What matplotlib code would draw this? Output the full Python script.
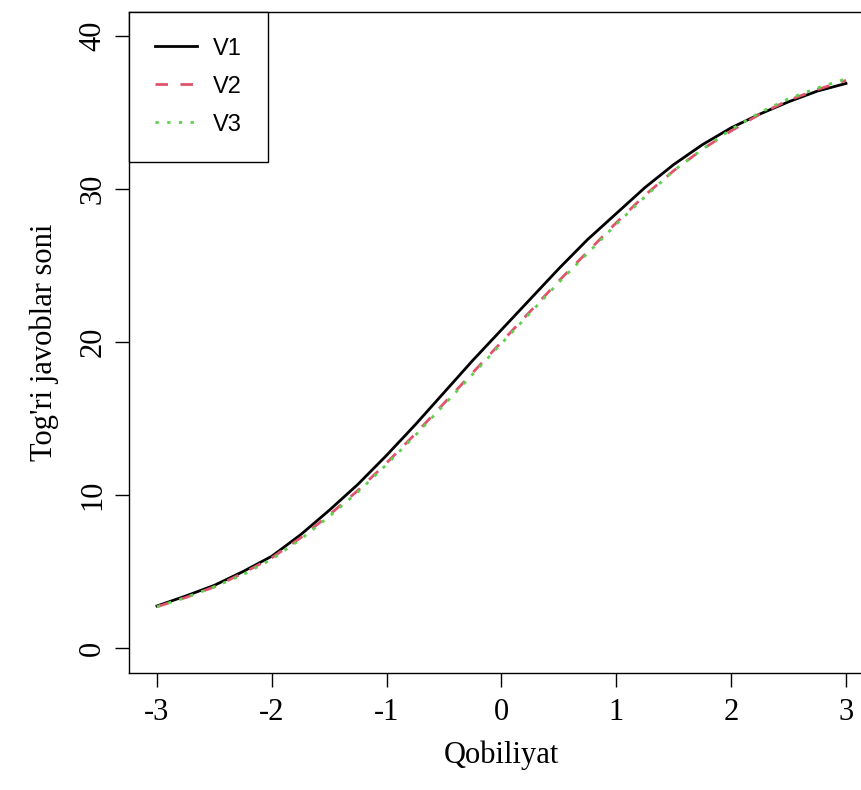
import matplotlib
matplotlib.use("Agg")
import matplotlib.pyplot as plt

# ── Data ──────────────────────────────────────────────────────────────────────
theta = [-3.0, -2.75, -2.5, -2.25, -2.0, -1.75, -1.5, -1.25, -1.0, -0.75, -0.5, -0.25,
         0.0, 0.25, 0.5, 0.75, 1.0, 1.25, 1.5, 1.75, 2.0, 2.25, 2.5, 2.75, 3.0]

v1 = [2.75, 3.4, 4.1, 5.0, 6.0, 7.4, 9.0, 10.7, 12.6, 14.6, 16.7, 18.8,
      20.8, 22.8, 24.8, 26.7, 28.4, 30.1, 31.6, 32.9, 34.0, 34.9, 35.7, 36.4, 36.9]
v2 = [2.7, 3.3, 4.0, 4.9, 5.9, 7.2, 8.7, 10.3, 12.1, 14.0, 16.0, 18.0,
      20.0, 22.0, 24.0, 25.9, 27.8, 29.6, 31.2, 32.6, 33.8, 34.9, 35.8, 36.5, 37.1]
v3 = [2.7, 3.3, 4.0, 4.8, 5.8, 7.1, 8.6, 10.2, 12.0, 13.9, 15.9, 17.9,
      19.9, 21.9, 23.9, 25.8, 27.7, 29.5, 31.2, 32.6, 33.9, 35.0, 35.9, 36.6, 37.2]

labels = ["V1", "V2", "V3"]
x_ticks = [-3, -2, -1, 0, 1, 2, 3]
y_ticks = [0, 10, 20, 30, 40]

# ── Plot ──────────────────────────────────────────────────────────────────────
SERIF = ["Liberation Serif", "DejaVu Serif"]
SANS = ["Liberation Sans", "DejaVu Sans"]

fig = plt.figure(figsize=(8.62, 7.90), dpi=100)
ax = fig.add_axes([0.1501, 0.1487, 0.8633, 0.8367])

ax.plot(theta, v1, color="black", lw=2, label=labels[0])
ax.plot(theta, v2, color="#DF536B", lw=2, dashes=(4.5, 4.5), label=labels[1])
ax.plot(theta, v3, color="#61D04F", lw=2, dashes=(1.2, 3.0), label=labels[2])

ax.set_xlim(-3.24, 3.24)
ax.set_ylim(-1.6, 41.6)
ax.set_xticks(x_ticks)
ax.set_yticks(y_ticks)
ax.set_xticklabels([str(t) for t in x_ticks], family=SERIF, fontsize=22)
ax.set_yticklabels([str(t) for t in y_ticks], family=SERIF, fontsize=22,
                   rotation=90, va="center")
ax.tick_params(axis="both", direction="out", length=10, width=1, color="black")
ax.tick_params(axis="x", pad=8)
ax.tick_params(axis="y", pad=6)

for s in ax.spines.values():
    s.set_linewidth(1)
    s.set_color("black")

ax.set_xlabel("Qobiliyat", family=SERIF, fontsize=22, labelpad=10)
ax.set_ylabel("Tog'ri javoblar soni", family=SERIF, fontsize=22, labelpad=14)

leg = ax.legend(loc="upper left", borderaxespad=0, fancybox=False, framealpha=1,
                edgecolor="black", prop={"family": SANS, "size": 17},
                handlelength=1.75, handletextpad=0.7, borderpad=1.1,
                labelspacing=0.68)
leg.get_frame().set_linewidth(1)

fig.savefig("out.png", dpi=100)
